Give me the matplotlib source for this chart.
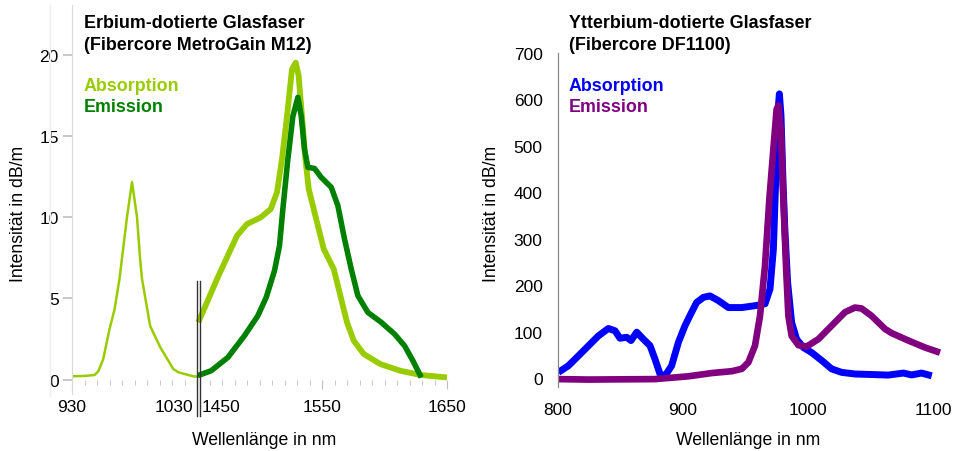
import matplotlib
matplotlib.use("Agg")
import matplotlib.pyplot as plt
from matplotlib.lines import Line2D
from matplotlib.transforms import ScaledTranslation

plt.rcParams["font.family"] = ["Liberation Sans", "DejaVu Sans"]

# Erbium: 980-nm-Bande (Absorption)
er_abs_980_wl = [930, 940, 948, 951, 955, 960, 964, 968, 974, 978, 982, 984.5, 986,
                 992.5, 1000.5, 1011, 1015, 1020, 1027, 1030]
er_abs_980 = [0.2, 0.22, 0.28, 0.5, 1.26, 3.1, 4.3, 6.2, 10.0, 12.15, 10.0, 7.4, 6.2,
              3.3, 2.0, 0.65, 0.45, 0.34, 0.2, 0.18]

# Erbium: 1550-nm-Bande
er_abs_1500_wl = [1451, 1458, 1466, 1474, 1482, 1490, 1501, 1509, 1514, 1518, 1522,
                  1526, 1529, 1531.3, 1534, 1536.7, 1539.4, 1544.7, 1551.4, 1559.4,
                  1564.7, 1570, 1575.4, 1583.4, 1596.7, 1612.7, 1628.7, 1650]
er_abs_1500 = [3.52, 4.75, 6.18, 7.52, 8.85, 9.57, 9.98, 10.49, 11.52, 13.57, 16.2,
               19.1, 19.5, 18.7, 16.2, 13.57, 11.72, 10.08, 8.03, 6.8,
               5.16, 3.52, 2.39, 1.57, 0.95, 0.54, 0.28, 0.13]

er_em_wl = [1450.6, 1461.3, 1474.7, 1488, 1498.7, 1505.4, 1512, 1516, 1518.7, 1522.7,
            1526.7, 1530.7, 1533.4, 1536, 1538.7, 1544, 1549.4, 1557.4, 1562.7, 1568,
            1573.4, 1578.7, 1586.7, 1597.4, 1608, 1616, 1622.7, 1629.4]
er_em = [0.24, 0.54, 1.36, 2.7, 3.93, 5.06, 6.7, 8.24, 10.49, 13.57,
         16.2, 17.37, 16.2, 14.18, 13.06, 12.99, 12.44, 11.83, 10.7, 8.65,
         6.8, 5.16, 4.13, 3.52, 2.8, 2.08, 1.16, 0.13]

# Ytterbium
yb_abs_wl = [800.3, 808.3, 816.3, 825.6, 832.3, 840.3, 845.6, 849.6, 855, 858.4, 863,
             868.3, 873.6, 877.6, 881.6, 885.6, 890.9, 896.3, 901.6, 906.9, 910.9,
             916.3, 921.6, 928.3, 936.3, 947, 957.6, 965.6, 969.6, 972.3, 974.1,
             975.7, 977.1, 978.4, 980, 981.6, 983.7, 986.9, 990.9, 996.3, 1003,
             1011, 1018.9, 1026.9, 1037.6, 1064.3, 1076.3, 1082.9, 1090.9, 1099]
yb_abs = [12.5, 26.7, 48, 73, 91, 107, 102, 86, 88, 81, 99,
          84, 70, 41, 9, 5, 26.7, 77, 113, 142, 163,
          174, 177, 167, 152, 152, 156, 160, 192, 278, 422,
          565, 612, 565, 422, 314, 206, 120, 84, 66, 55,
          38, 20, 12.5, 9, 6.7, 11, 7, 11, 5]

yb_em_wl = [800, 824.3, 877.6, 904.3, 923, 939, 947, 952.3, 957.6, 961.6, 965.6,
            969.1, 972.3, 974.9, 976.3, 978.4, 980.3, 982.4, 984.3, 986.9, 992.3,
            998.9, 1008.3, 1018.9, 1029.6, 1037.6, 1042.9, 1050.9, 1061.6, 1066.9,
            1080.3, 1093.6, 1105.6]
yb_em = [-2, -3, -2, 4, 11, 15, 20, 34, 70, 134, 242,
         386, 493, 579, 587, 529, 386, 242, 134, 91, 71,
         68, 84, 113, 142, 152, 150, 134, 106, 97,
         81, 66, 55]

er_ticks_low = [930, 1030]
er_ticks_high = [1450, 1550, 1650]

ABS_ER = "#99cc00"
EM_ER = "#008000"
ABS_YB = "#0000ff"
EM_YB = "#800080"

# Achsenbruch: 1450 nm schliesst direkt an 1030 nm an
SHIFT = 1450 - 1030


def er_x(wl):
    return [w - SHIFT if w >= 1450 else w for w in wl]


fig = plt.figure(figsize=(9.54, 4.52), dpi=100)
W, H = 954.0, 452.0

ax1 = fig.add_axes([72 / W, 1 - 395 / H, 377.5 / W, 389 / H])
ax2 = fig.add_axes([558 / W, 1 - 388 / H, 387.5 / W, 334 / H])

line_kw = dict(solid_joinstyle="round", solid_capstyle="butt")

# --- Erbium ---
ax1.plot(er_abs_980_wl, er_abs_980, color=ABS_ER, lw=1.8, **line_kw)
ax1.plot(er_x(er_abs_1500_wl), er_abs_1500, color=ABS_ER, lw=4.2, **line_kw)
ax1.plot(er_x(er_em_wl), er_em, color=EM_ER, lw=4.0, **line_kw)

for xb in (1030.0, 1032.4):
    ax1.plot([xb, xb], [6.06, -2.25], color="#333333", lw=1.0, clip_on=False)

ax1.set_xlim(930, 1232)
ax1.set_ylim(-0.89, 23.05)
for s in ("top", "right"):
    ax1.spines[s].set_visible(False)
ax1.spines["bottom"].set_position(("data", 0))
ax1.spines["bottom"].set_color("none")
ax1.spines["left"].set_color("#d9d9d9")

# Hauptstriche: 930, 1030 und die Werte hinter dem Bruch; 1450 liegt als
# Nebenstrich auf derselben Stelle wie 1030
major_pos = er_ticks_low + er_x(er_ticks_high[1:])
major_lab = [str(t) for t in er_ticks_low + er_ticks_high[1:]]
ax1.set_xticks(major_pos, labels=major_lab)

ax1.xaxis.remove_overlapping_locs = False
minor_pos = list(range(940, 1030, 10)) + [1030] + \
    [w - SHIFT for w in range(1460, 1650, 10) if w != 1550]
minor_lab = ["" if p != 1030 else str(er_ticks_high[0]) for p in minor_pos]
ax1.set_xticks(minor_pos, labels=minor_lab, minor=True)

ax1.tick_params(axis="x", which="major", length=6.5, color="#bfbfbf", pad=7.5, labelsize=12.5)
ax1.tick_params(axis="x", which="minor", length=3.8, color="#bfbfbf", pad=10.2, labelsize=12.5)

lab_1030 = ax1.get_xticklabels()[1]
lab_1030.set_ha("right")
lab_1030.set_transform(lab_1030.get_transform() + ScaledTranslation(-0.035, 0, fig.dpi_scale_trans))
lab_1450 = ax1.get_xticklabels(minor=True)[minor_pos.index(1030)]
lab_1450.set_ha("left")
lab_1450.set_transform(lab_1450.get_transform() + ScaledTranslation(0.045, 0, fig.dpi_scale_trans))

ax1.set_yticks([0, 5, 10, 15, 20])
ax1.tick_params(axis="y", length=6.5, width=1.2, color="#bfbfbf", pad=3, labelsize=12.5)

# --- Ytterbium ---
ax2.plot(yb_abs_wl, yb_abs, color=ABS_YB, lw=5.0, **line_kw)
ax2.plot(yb_em_wl, yb_em, color=EM_YB, lw=4.8, **line_kw)

ax2.set_xlim(800, 1110)
ax2.set_ylim(-19, 700)
for s in ("top", "right", "bottom"):
    ax2.spines[s].set_visible(False)
ax2.spines["left"].set_color("#888888")
ax2.spines["left"].set_linewidth(0.9)

ax2.set_xticks([800, 900, 1000, 1100])
ax2.set_xticks([1000], minor=True)
ax2.tick_params(axis="x", which="major", length=0, pad=11, labelsize=12.5)
ax2.tick_params(axis="x", which="minor", length=6, direction="in", color="#888888")

ax2.set_yticks(range(0, 701, 100))
ax2.set_yticks([400, 700], minor=True)
ax2.tick_params(axis="y", which="major", length=0, pad=11, labelsize=12.5)
ax2.tick_params(axis="y", which="minor", length=6.5, color="#222222")

# --- Beschriftungen ---
bold = dict(fontsize=12.9, fontweight="bold", va="baseline")
fig.text(84 / W, 1 - 28 / H, "Erbium-dotierte Glasfaser", **bold)
fig.text(84 / W, 1 - 50 / H, "(Fibercore MetroGain M12)", **bold)
fig.text(84 / W, 1 - 91 / H, "Absorption", color=ABS_ER, **bold)
fig.text(84 / W, 1 - 112 / H, "Emission", color=EM_ER, **bold)

fig.text(569 / W, 1 - 28 / H, "Ytterbium-dotierte Glasfaser", **bold)
fig.text(569 / W, 1 - 50 / H, "(Fibercore DF1100)", **bold)
fig.text(569 / W, 1 - 91 / H, "Absorption", color=ABS_YB, **bold)
fig.text(569 / W, 1 - 112 / H, "Emission", color=EM_YB, **bold)

fig.text(264.5 / W, 1 - 445 / H, "Wellenlänge in nm", fontsize=12.7, ha="center", va="baseline")
fig.text(748 / W, 1 - 445 / H, "Wellenlänge in nm", fontsize=12.7, ha="center", va="baseline")
fig.text(19 / W, 1 - 214 / H, "Intensität in dB/m", fontsize=12.7, rotation=90,
         ha="center", va="center")
fig.text(491 / W, 1 - 214 / H, "Intensität in dB/m", fontsize=12.7, rotation=90,
         ha="center", va="center")

fig.add_artist(Line2D([50 / W, 50 / W], [1 - 6 / H, 1 - 397 / H], color="#efefef", lw=1))

fig.savefig("out.png", dpi=100)
